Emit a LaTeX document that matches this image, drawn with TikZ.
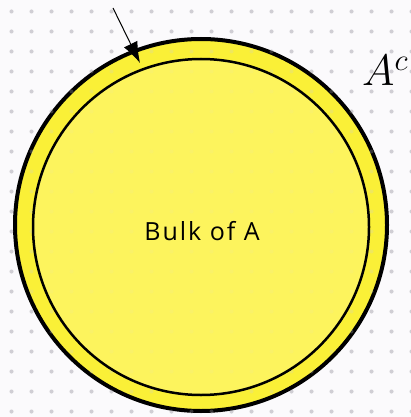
\RequirePackage{fix-cm}
\documentclass[tikz,border=0pt]{standalone}
\usepackage{fontspec}
\newfontfamily\labelfont[LetterSpace=8]{Open Sans}
\usepackage{tikz}
\usetikzlibrary{arrows.meta, positioning, calc}

\definecolor{paper}{RGB}{251,250,252}
\definecolor{griddot}{RGB}{208,206,212}
\definecolor{ringyellow}{RGB}{250,240,55}
\definecolor{bulkyellow}{RGB}{255,246,110}

\tikzset{
  dot/.style={fill=griddot, draw=none},
  ringcircle/.style={circle, draw=black, line width=4pt, fill=ringyellow, inner sep=0pt, minimum size=372pt},
  bulkcircle/.style={circle, draw=black, line width=2.5pt, fill=bulkyellow, fill opacity=0.7, draw opacity=1, inner sep=0pt, minimum size=336pt},
  pointer/.style={-{Latex[length=21pt,width=15pt]}, line width=1pt}
}

\begin{document}
\begin{tikzpicture}[x=1pt, y=-1pt]
  % Sfondo
  \useasboundingbox (0,0) rectangle (411,417);
  \fill[paper] (0,0) rectangle (411,417);

  % Griglia di punti
  \foreach \i in {0,...,20} {
    \foreach \j in {0,...,20} {
      \fill[dot] (11.5+20*\i, 11.5+20*\j) circle (2);
    }
  }

  % Insieme A e il suo bordo
  \node[ringcircle] (ring) at (201,225) {};
  \foreach \i in {0,...,20} {
    \foreach \j in {0,...,20} {
      \fill[dot, opacity=0.25] (11.5+20*\i, 11.5+20*\j) circle (2);
    }
  }
  \node[bulkcircle] (bulk) at (201,227) {};
  \node[font=\labelfont\fontsize{25}{28}\selectfont] (bulklabel) at (202,231) {Bulk of A};

  % Complementare
  \node[anchor=base west, inner sep=0pt, font=\fontsize{44}{48}\selectfont] (Ac) at (362,86) {$A^c$};

  % Freccia verso il bordo
  \coordinate (tail) at (113,8);
  \coordinate (tip) at (140,63);
  \draw[pointer] (tail) -- (tip);
\end{tikzpicture}
\end{document}
